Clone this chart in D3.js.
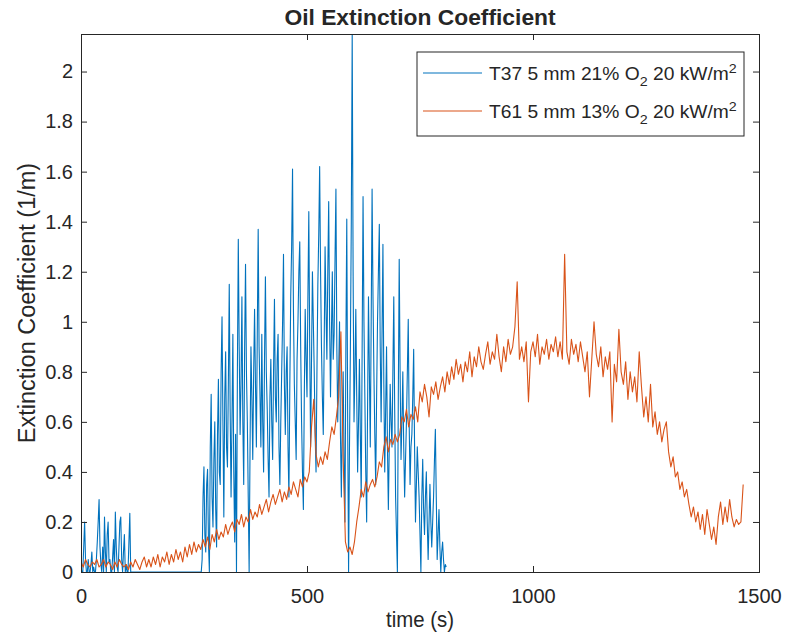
<!DOCTYPE html>
<html>
<head>
<meta charset="utf-8">
<script src="https://cdn.jsdelivr.net/npm/d3@7"></script>
<style>
  body { margin: 0; background: #fff; }
  text { font-family: "Liberation Sans", Arial, sans-serif; fill: #262626; }
</style>
</head>
<body>
<div class="chart"></div>
<script>
// sampling step of each test (s)
const dtT37 = 2
const dtT61 = 5

// T37 5 mm 21% O2 20 kW/m2, one row = 10 samples (20 s)
const t37 = [
  0.02, 0.0, 0.0, 0.1, 0.2, 0.05, 0.0, 0.0, 0.05, 0.0,        // 0
  0.0, 0.03, 0.08, 0.0, 0.02, 0.0, 0.0, 0.05, 0.12, 0.2,      // 20
  0.29, 0.1, 0.03, 0.0, 0.1, 0.0, 0.22, 0.08, 0.0, 0.15,      // 40
  0.2, 0.04, 0.05, 0.0, 0.0, 0.06, 0.13, 0.0, 0.24, 0.1,      // 60
  0.02, 0.0, 0.1, 0.2, 0.22, 0.05, 0.0, 0.08, 0.15, 0.0,      // 80
  0.03, 0.0, 0.0, 0.12, 0.235, 0.0, 0, 0, 0, 0,               // 100
  0, 0, 0, 0, 0, 0, 0, 0, 0, 0,                               // 120
  0, 0, 0, 0, 0, 0, 0, 0, 0, 0,                               // 140
  0, 0, 0, 0, 0, 0, 0, 0, 0, 0,                               // 160
  0, 0, 0, 0, 0, 0, 0, 0, 0, 0,                               // 180
  0, 0, 0, 0, 0, 0, 0, 0, 0, 0,                               // 200
  0, 0, 0, 0, 0, 0, 0, 0, 0, 0,                               // 220
  0, 0, 0, 0, 0, 0, 0, 0, 0, 0,                               // 240
  0, 0, 0, 0, 0.05, 0.3, 0.42, 0.15, 0.08, 0.35,              // 260
  0.41, 0.12, 0.0, 0.5, 0.71, 0.3, 0.18, 0.45, 0.6, 0.25,     // 280
  0.1, 0.55, 0.77, 0.4, 0.35, 0.8, 1.02, 0.6, 0.22, 0.7,      // 300
  0.88, 0.5, 0.42, 0.75, 1.15, 0.65, 0.3, 0.6, 0.95, 0.4,     // 320
  0.12, 0.55, 0.0, 0.8, 1.33, 0.9, 0.55, 0.75, 1.1, 0.6,      // 340
  0.35, 0.9, 1.23, 0.8, 0.6, 0.3, 0.0, 0.5, 0.9, 0.7,         // 360
  0.45, 0.8, 1.05, 0.75, 0.5, 0.95, 1.37, 0.9, 0.7, 0.5,      // 380
  0.95, 0.6, 0.4, 0.85, 1.18, 0.8, 0.65, 0.45, 0.3, 0.7,      // 400
  0.85, 0.6, 0.45, 0.8, 1.09, 0.7, 0.6, 0.85, 0.95, 0.5,      // 420
  0.35, 0.6, 0.8, 1.0, 1.27, 0.75, 0.55, 0.8, 0.9, 0.5,       // 440
  0.3, 0.75, 1.1, 1.3, 1.61, 1.05, 0.75, 0.6, 0.45, 0.85,     // 460
  1.0, 1.2, 1.32, 0.9, 0.6, 0.4, 0.25, 0.7, 1.05, 0.85,       // 480
  0.7, 1.1, 1.44, 0.9, 0.5, 0.85, 1.2, 1.0, 0.8, 0.55,        // 500
  0.4, 0.8, 1.15, 1.35, 1.62, 1.2, 0.9, 0.7, 0.55, 0.9,       // 520
  1.3, 1.05, 0.85, 1.2, 1.48, 1.0, 0.7, 0.95, 1.2, 0.85,      // 540
  0.95, 1.25, 1.53, 0.9, 0.6, 0.8, 1.0, 0.55, 0.3, 0.6,       // 560
  0.8, 0.45, 0.2, 0.9, 1.41, 0.6, 0.0, 0.5, 0.9, 1.4,         // 580
  2.15, 1.2, 0.6, 0.8, 1.05, 0.7, 0.4, 0.6, 0.85, 0.55,       // 600
  0.3, 0.9, 1.5, 1.0, 0.7, 0.4, 0.2, 0.65, 1.1, 0.8,          // 620
  0.5, 1.0, 1.53, 1.1, 0.8, 0.55, 0.35, 0.7, 1.0, 1.2,        // 640
  1.39, 0.9, 0.6, 0.95, 1.31, 0.75, 0.4, 0.65, 0.9, 0.5,      // 660
  0.25, 0.5, 0.75, 0.6, 0.5, 0.8, 1.1, 0.65, 0.3, 0.15,       // 680
  0.0, 0.7, 1.25, 0.8, 0.45, 0.6, 0.8, 0.5, 0.3, 0.45,        // 700
  0.6, 0.8, 1.01, 0.6, 0.35, 0.5, 0.55, 0.7, 0.89, 0.5,       // 720
  0.2, 0.35, 0.5, 0.4, 0.3, 0.15, 0.0, 0.3, 0.45, 0.25,       // 740
  0.15, 0.3, 0.4, 0.2, 0.05, 0.2, 0.35, 0.2, 0.1, 0.2,        // 760
  0.3, 0.45, 0.57, 0.3, 0.05, 0.15, 0.25, 0.1, 0.0, 0.08,     // 780
  0.12, 0.05, 0.0, 0.03, 0.02                                 // 800
]

// T61 5 mm 13% O2 20 kW/m2, one row = 10 samples (50 s)
const t61 = [
  0.04, 0.02, 0.05, 0.03, 0.02, 0.04, 0.03, 0.05, 0.02, 0.03,   // 0
  0.05, 0.02, 0.04, 0.03, 0.01, 0.04, 0.02, 0.05, 0.03, 0.02,   // 50
  0.03, 0.01, 0.04, 0.02, 0.05, 0.03, 0.01, 0.04, 0.06, 0.02,   // 100
  0.05, 0.02, 0.06, 0.03, 0.07, 0.02, 0.06, 0.04, 0.08, 0.03,   // 150
  0.07, 0.04, 0.09, 0.05, 0.08, 0.04, 0.1, 0.06, 0.11, 0.07,    // 200
  0.12, 0.08, 0.11, 0.09, 0.13, 0.1, 0.14, 0.09, 0.15, 0.12,    // 250
  0.17, 0.13, 0.16, 0.14, 0.19, 0.15, 0.18, 0.2, 0.16, 0.21,    // 300
  0.19, 0.23, 0.18, 0.22, 0.2, 0.25, 0.21, 0.24, 0.22, 0.27,    // 350
  0.23, 0.26, 0.29, 0.24, 0.28, 0.31, 0.27, 0.3, 0.33, 0.28,    // 400
  0.32, 0.29, 0.34, 0.31, 0.36, 0.33, 0.3, 0.37, 0.34, 0.38,    // 450
  0.36, 0.4, 0.58, 0.69, 0.47, 0.42, 0.46, 0.43, 0.48, 0.45,    // 500
  0.52, 0.58, 0.55, 0.62, 0.7, 0.96, 0.45, 0.12, 0.08, 0.1,     // 550
  0.07, 0.12, 0.2, 0.26, 0.33, 0.3, 0.36, 0.32, 0.35, 0.37,     // 600
  0.34, 0.38, 0.44, 0.42, 0.5, 0.54, 0.48, 0.53, 0.51, 0.55,    // 650
  0.52, 0.55, 0.62, 0.6, 0.65, 0.58, 0.63, 0.61, 0.66, 0.6,     // 700
  0.72, 0.68, 0.75, 0.7, 0.62, 0.74, 0.71, 0.76, 0.69, 0.74,    // 750
  0.78, 0.72, 0.8, 0.75, 0.82, 0.77, 0.85, 0.79, 0.83, 0.76,    // 800
  0.84, 0.8, 0.88, 0.78, 0.86, 0.82, 0.9, 0.84, 0.81, 0.87,     // 850
  0.92, 0.83, 0.88, 0.85, 0.95, 0.86, 0.8, 0.9, 0.84, 0.93,     // 900
  0.87, 0.9, 0.98, 1.16, 0.85, 0.9, 0.84, 0.92, 0.68, 0.88,     // 950
  0.92, 0.86, 0.95, 0.83, 0.9, 0.87, 0.93, 0.85, 0.91, 0.88,    // 1000
  0.94, 0.86, 0.92, 0.85, 1.27, 0.88, 0.83, 0.93, 0.87, 0.91,   // 1050
  0.84, 0.92, 0.86, 0.8, 0.88, 0.7, 0.85, 1.0, 0.87, 0.82,      // 1100
  0.9, 0.78, 0.86, 0.81, 0.88, 0.6, 0.83, 0.76, 0.97, 0.8,      // 1150
  0.75, 0.84, 0.69, 0.8, 0.72, 0.78, 0.68, 0.88, 0.74, 0.62,    // 1200
  0.7, 0.6, 0.75, 0.58, 0.64, 0.55, 0.6, 0.52, 0.57, 0.6,       // 1250
  0.48, 0.42, 0.46, 0.38, 0.4, 0.33, 0.36, 0.3, 0.33, 0.27,     // 1300
  0.22, 0.26, 0.2, 0.24, 0.17, 0.23, 0.15, 0.25, 0.19, 0.13,    // 1350
  0.18, 0.11, 0.22, 0.28, 0.19, 0.26, 0.2, 0.29, 0.22, 0.18,    // 1400
  0.21, 0.19, 0.2, 0.35                                         // 1450
]

const seriesNames = ['T37', 'T61']
const seriesO2 = ['21%', '13%']
const seriesColors = ['#0072BD', '#D95319']
const xTicks = [0, 500, 1000, 1500]
const yTicks = [0, 0.2, 0.4, 0.6, 0.8, 1, 1.2, 1.4, 1.6, 1.8, 2]
const xDomain = [0, 1500]
const yDomain = [0, 2.15]

// canvas
const margin = { top: 34, right: 28, bottom: 70, left: 81 }
const width = 787 - margin.left - margin.right
const height = 642 - margin.top - margin.bottom

const svg = d3.select('.chart')
  .append('svg')
  .attr('width', 787)
  .attr('height', 642)

const chartGroup = svg.append('g')
  .attr('transform', `translate(${margin.left}, ${margin.top})`)

const xScale = d3.scaleLinear().domain(xDomain).range([0, width])
const yScale = d3.scaleLinear().domain(yDomain).range([height, 0])

svg.append('clipPath')
  .attr('id', 'plot-clip')
  .append('rect')
  .attr('width', width)
  .attr('height', height)

// stretch/squeeze a text horizontally to the width it has in the picture
const fitWidth = (g, target) => {
  const w = g.node().getBBox().width
  const base = g.attr('data-t') || ''
  g.attr('transform', `${base} scale(${target / w}, 1)`)
}

// series
const toPoints = (vals, dt) => vals.map((v, i) => ({ t: i * dt, v: v }))
const series = [toPoints(t37, dtT37), toPoints(t61, dtT61)]

const line = d3.line()
  .x(d => xScale(d.t))
  .y(d => yScale(d.v))

chartGroup.append('g')
  .attr('clip-path', 'url(#plot-clip)')
  .selectAll('path')
  .data(series)
  .enter()
  .append('path')
  .attr('d', line)
  .attr('fill', 'none')
  .attr('stroke', (d, i) => seriesColors[i])
  .attr('stroke-width', 1.1)
  .attr('stroke-linejoin', 'round')

// axes, MATLAB style: box with inward ticks on all four sides
const fmt = d => String(d)
const styleAxis = g => {
  g.selectAll('.domain').remove()
  g.selectAll('line').attr('stroke', '#262626')
  g.selectAll('text').style('font-size', '20px').attr('fill', '#262626')
}

chartGroup.append('g')
  .attr('transform', `translate(0, ${height})`)
  .call(d3.axisBottom(xScale).tickValues(xTicks).tickFormat(fmt).tickSize(-6).tickPadding(17))
  .call(styleAxis)
chartGroup.append('g')
  .call(d3.axisLeft(yScale).tickValues(yTicks).tickFormat(fmt).tickSize(-6).tickPadding(8))
  .call(styleAxis)
chartGroup.append('g')
  .call(d3.axisTop(xScale).tickValues(xTicks).tickFormat('').tickSize(-6))
  .call(styleAxis)
chartGroup.append('g')
  .attr('transform', `translate(${width}, 0)`)
  .call(d3.axisRight(yScale).tickValues(yTicks).tickFormat('').tickSize(-6))
  .call(styleAxis)

chartGroup.append('rect')
  .attr('width', width)
  .attr('height', height)
  .attr('fill', 'none')
  .attr('stroke', '#262626')
  .attr('stroke-width', 1)
  .attr('shape-rendering', 'crispEdges')

// titles
const title = svg.append('g')
  .attr('data-t', `translate(${margin.left + width / 2}, 25)`)
title.append('text')
  .attr('text-anchor', 'middle')
  .attr('font-weight', 'bold')
  .style('font-size', '22px')
  .attr('fill', '#000')
  .text('Oil Extinction Coefficient')
fitWidth(title, 272)

const xLabel = svg.append('g')
  .attr('data-t', `translate(${margin.left + width / 2}, 627)`)
xLabel.append('text')
  .attr('text-anchor', 'middle')
  .style('font-size', '23px')
  .text('time (s)')
fitWidth(xLabel, 68)

svg.append('text')
  .attr('transform', `translate(35, ${margin.top + height / 2}) rotate(-90)`)
  .attr('text-anchor', 'middle')
  .style('font-size', '23.5px')
  .text('Extinction Coefficient (1/m)')

// legend
const legend = svg.append('g').attr('transform', 'translate(417, 52)')
legend.append('rect')
  .attr('width', 327)
  .attr('height', 84)
  .attr('fill', '#fff')
  .attr('stroke', '#262626')
  .attr('stroke-width', 1)

const legendItems = legend.selectAll('g.item')
  .data(seriesNames)
  .enter()
  .append('g')
  .attr('class', 'item')
  .attr('transform', (d, i) => `translate(0, ${21 + i * 38})`)

legendItems.append('line')
  .attr('x1', 6).attr('x2', 65)
  .attr('stroke', (d, i) => seriesColors[i])
  .attr('stroke-width', 1.1)

legendItems.each(function (d, i) {
  const g = d3.select(this).append('g').attr('data-t', 'translate(72, 7)')
  const label = g.append('text').style('font-size', '17.5px')
  label.append('tspan').text(`${d} 5 mm ${seriesO2[i]} O`)
  label.append('tspan').attr('dy', 6).style('font-size', '13px').text('2')
  label.append('tspan').attr('dy', -6).text(' 20 kW/m')
  label.append('tspan').attr('dy', -7).style('font-size', '13px').text('2')
  fitWidth(g, 248)
})
</script>
</body>
</html>
